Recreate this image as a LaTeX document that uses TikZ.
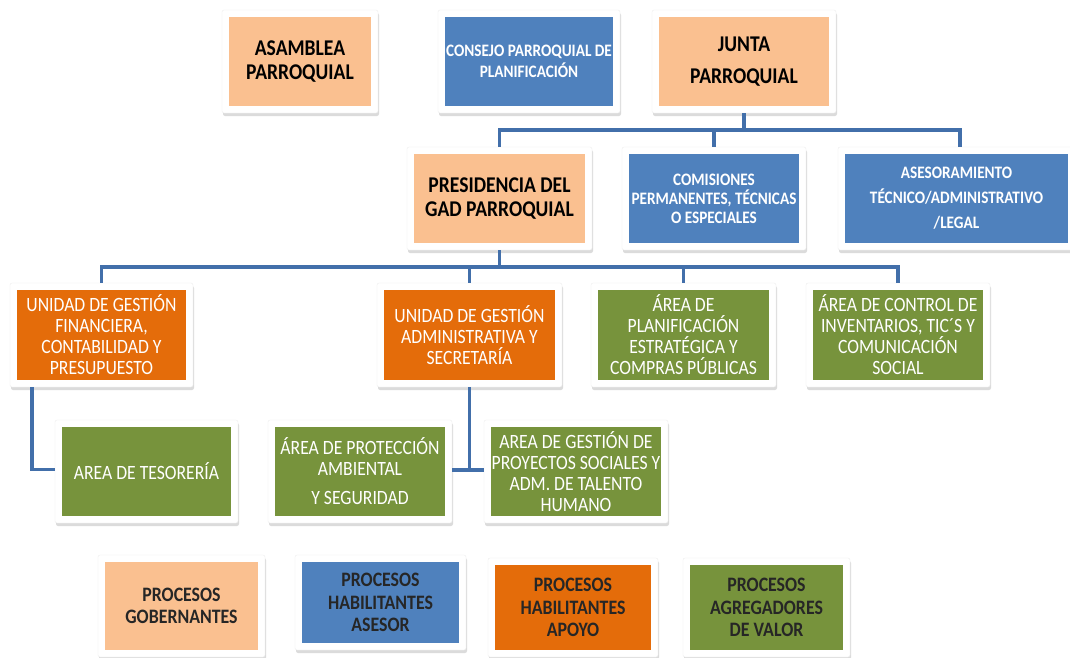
\documentclass[tikz,border=0pt]{standalone}
\usepackage{fontspec}
\setmainfont{Carlito}
\newfontfamily\narrowfont[FakeStretch=0.87]{Carlito}
\usepackage{xcolor}
\usepackage{tikz}
\definecolor{peach}{RGB}{250, 192, 144}
\definecolor{steelblue}{RGB}{79, 129, 189}
\definecolor{burntorange}{RGB}{228, 108, 10}
\definecolor{olivegreen}{RGB}{119, 147, 60}
\definecolor{linkblue}{RGB}{66, 111, 170}
\usetikzlibrary{positioning, shadows}

\begin{document}
\begin{tikzpicture}[
        x=1pt, y=-1pt,
        card/.style={rectangle, fill=white, draw=black!7, rounded corners=2pt,
                    drop shadow={opacity=0.28, shadow xshift=1pt, shadow yshift=-3pt},
                    minimum width=184pt, minimum height=103pt, inner sep=0pt, align=center,
                    path picture={\fill[#1, sharp corners]
                        ([shift={(7pt,-7pt)}]path picture bounding box.north west) rectangle
                        ([shift={(-7pt,7pt)}]path picture bounding box.south east);}},
        govbox/.style={card=peach, text=black, font=\narrowfont\bfseries\fontsize{22.5}{24}\selectfont},
        advbox/.style={card=steelblue, text=white, font=\narrowfont\bfseries\fontsize{17.5}{19}\selectfont},
        supbox/.style={card=burntorange, text=white, font=\narrowfont\fontsize{20.3}{21}\selectfont},
        valbox/.style={card=olivegreen, text=white, font=\narrowfont\fontsize{20.3}{21}\selectfont},
        keybox/.style={font=\narrowfont\bfseries\fontsize{20.5}{22.5}\selectfont, text=black!85},
        link/.style={draw=linkblue, line width=3.5pt}
    ]
        \path[use as bounding box, fill=white] (0,0) rectangle (1070,657);

        % Top row
        \node[govbox, minimum width=156pt] (asamblea) at (300,61.5) {ASAMBLEA\\PARROQUIAL};
        \node[advbox, minimum width=182pt] (consejo) at (529,61.5) {CONSEJO PARROQUIAL DE\\[2pt]PLANIFICACIÓN};
        \node[govbox] (junta) at (744,61.5) {JUNTA\\[8pt]PARROQUIAL};

        % Second row
        \node[govbox, minimum width=185pt] (presidencia) at (499.5,198.5) {PRESIDENCIA DEL\\GAD PARROQUIAL};
        \node[advbox] (comisiones) at (714,198.5) {COMISIONES\\PERMANENTES, TÉCNICAS\\O ESPECIALES};
        \node[advbox, minimum width=237pt] (asesoramiento) at (956.5,198.5) {ASESORAMIENTO\\[6pt]TÉCNICO/ADMINISTRATIVO\\[6pt]/LEGAL};

        % Third row
        \node[supbox, minimum width=183pt, minimum height=104pt] (financiera) at (101.5,335) {UNIDAD DE GESTIÓN\\FINANCIERA,\\CONTABILIDAD Y\\PRESUPUESTO};
        \node[supbox, minimum width=185pt, minimum height=104pt] (administrativa) at (469.5,335) {UNIDAD DE GESTIÓN\\ADMINISTRATIVA Y\\SECRETARÍA};
        \node[valbox, minimum width=185pt, minimum height=104pt] (planificacion) at (683.5,335) {ÁREA DE\\PLANIFICACIÓN\\ESTRATÉGICA Y\\COMPRAS PÚBLICAS};
        \node[valbox, minimum height=104pt] (control) at (898,335) {ÁREA DE CONTROL DE\\INVENTARIOS, TIC´S Y\\COMUNICACIÓN\\SOCIAL};

        % Fourth row
        \node[valbox, minimum width=183pt] (tesoreria) at (146.5,471.5) {AREA DE TESORERÍA};
        \node[valbox] (proteccion) at (360,471.5) {ÁREA DE PROTECCIÓN\\AMBIENTAL\\[8pt]Y SEGURIDAD};
        \node[valbox] (gestion) at (576,471.5) {AREA DE GESTIÓN DE\\PROYECTOS SOCIALES Y\\ADM. DE TALENTO\\HUMANO};

        % Legend
        \node[card=peach, keybox, minimum width=167pt, minimum height=102pt] (gobernantes) at (181.5,606) {PROCESOS\\GOBERNANTES};
        \node[card=steelblue, keybox, minimum width=171pt, minimum height=95pt] (asesor) at (380.5,602.5) {PROCESOS\\HABILITANTES\\ASESOR};
        \node[card=burntorange, keybox, minimum width=170pt, minimum height=99pt] (apoyo) at (573,607.5) {PROCESOS\\HABILITANTES\\APOYO};
        \node[card=olivegreen, keybox, minimum width=167pt, minimum height=99pt] (agregadores) at (766.5,607.5) {PROCESOS\\AGREGADORES\\DE VALOR};

        % Connectors
        \draw[link] (junta.south) -- ++(0,17) -| (presidencia.north);
        \draw[link] (junta.south) ++(0,17) -| (comisiones.north);
        \draw[link] (junta.south) ++(0,17) -| ([xshift=3.5pt]asesoramiento.north);
        \draw[link] (presidencia.south) -- ++(0,17) -| (financiera.north);
        \draw[link] (presidencia.south) ++(0,17) -| (administrativa.north);
        \draw[link] (presidencia.south) ++(0,17) -| (planificacion.north);
        \draw[link] (presidencia.south) ++(0,17) -| (control.north);
        \draw[link] ([xshift=22pt]financiera.south west) |- ([yshift=2pt]tesoreria.west);
        \draw[link] (administrativa.south) |- ([yshift=1.5pt]proteccion.east);
        \draw[link] (administrativa.south) |- ([yshift=1.5pt]gestion.west);
    \end{tikzpicture}
\end{document}
